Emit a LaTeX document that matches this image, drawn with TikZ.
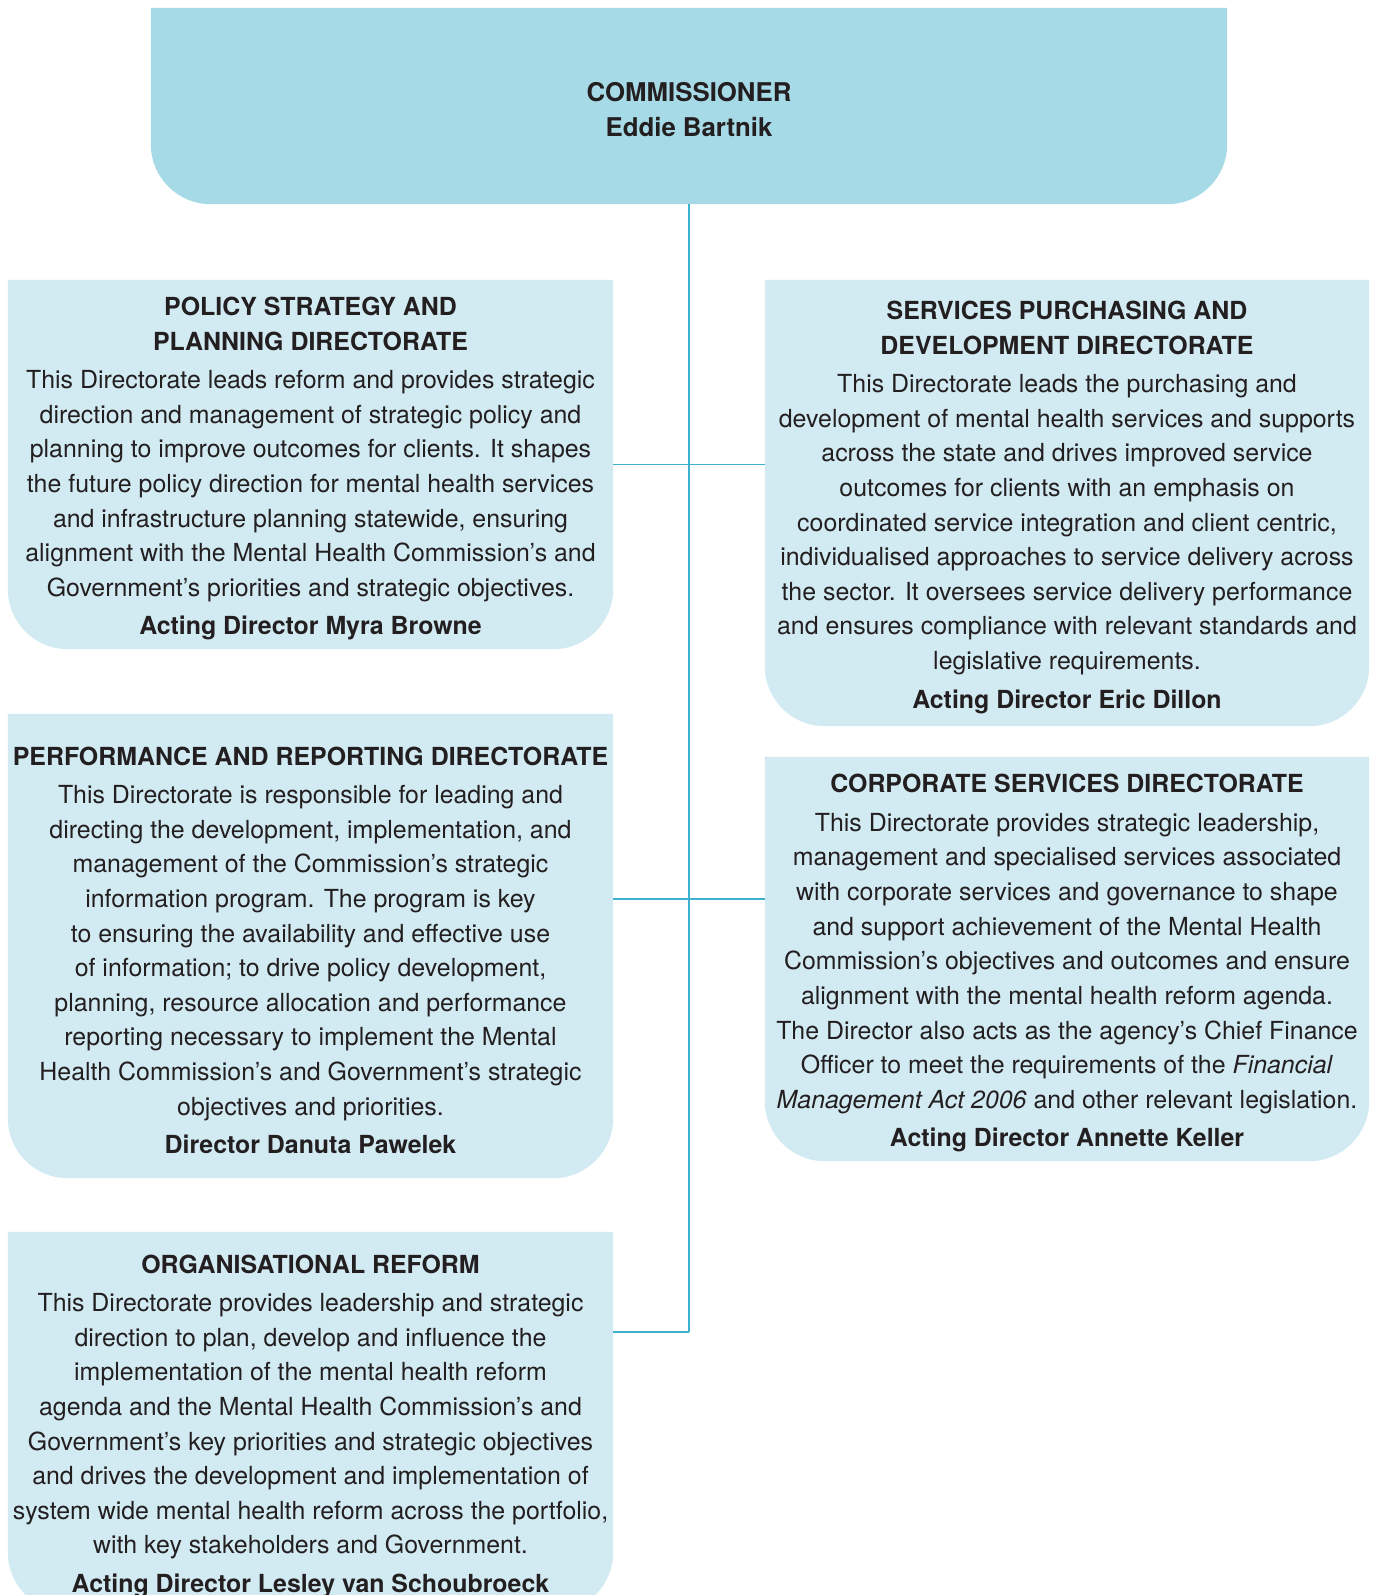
\documentclass[tikz,border=0pt]{standalone}
\usepackage{fontspec}
\setmainfont{TeX Gyre Heros}
\usetikzlibrary{backgrounds}
\definecolor{commblue}{HTML}{A7DAE7}
\definecolor{dirblue}{HTML}{D2EAF2}
\definecolor{linkblue}{HTML}{3DB1CE}
\definecolor{inkgrey}{HTML}{231F20}
\newcommand{\boxhead}[1]{\rule{0pt}{27pt}\textbf{#1}}
\begin{document}
\begin{tikzpicture}[x=1pt,y=-1pt]
    \tikzstyle{dirbox}=[rectangle, inner sep=0pt, align=center, text=inkgrey, font=\fontsize{24.9}{34.6}\selectfont]
    \tikzstyle{link}=[draw=linkblue, line width=1.6pt]
    \useasboundingbox (0,0) rectangle (1375,1595);
    \clip (0,0) rectangle (1375,1595);
    \node[dirbox, font=\fontsize{25.8}{35}\selectfont, minimum width=1076pt, minimum height=196pt] (comm) at (689,106) {\boxhead{COMMISSIONER}\\ \textbf{Eddie Bartnik}};
    \node[dirbox, minimum width=605pt, minimum height=369pt] (psp) at (310.5,464.5) {\boxhead{POLICY STRATEGY AND}\\ \textbf{PLANNING DIRECTORATE}\\[4pt]
      This Directorate leads reform and provides strategic\\
      direction and management of strategic policy and\\
      planning to improve outcomes for clients.  It shapes\\
      the future policy direction for mental health services\\
      and infrastructure planning statewide, ensuring\\
      alignment with the Mental Health Commission’s and\\
      Government’s priorities and strategic objectives.\\[4pt]
      \textbf{Acting Director Myra Browne}};
    \node[dirbox, minimum width=604pt, minimum height=446pt] (spd) at (1067,503) {\boxhead{SERVICES PURCHASING AND}\\ \textbf{DEVELOPMENT DIRECTORATE}\\[4pt]
      This Directorate leads the purchasing and\\
      development of mental health services and supports\\
      across the state and drives improved service\\
      outcomes for clients with an emphasis on\\
      coordinated service integration and client centric,\\
      individualised approaches to service delivery across\\
      the sector. It oversees service delivery performance\\
      and ensures compliance with relevant standards and\\
      legislative requirements.\\[4pt]
      \textbf{Acting Director Eric Dillon}};
    \node[dirbox, minimum width=605pt, minimum height=464pt] (prd) at (310.5,946) {\boxhead{PERFORMANCE AND REPORTING DIRECTORATE}\\[4pt]
      This Directorate is responsible for leading and\\
      directing the development, implementation, and\\
      management of the Commission’s strategic\\
      information program. The program is key\\
      to ensuring the availability and effective use\\
      of information; to drive policy development,\\
      planning, resource allocation and performance\\
      reporting necessary to implement the Mental\\
      Health Commission’s and Government’s strategic\\
      objectives and priorities.\\[4pt]
      \textbf{Director Danuta Pawelek}};
    \node[dirbox, minimum width=604pt, minimum height=404pt] (csd) at (1067,959) {\boxhead{CORPORATE SERVICES DIRECTORATE}\\[4pt]
      This Directorate provides strategic leadership,\\
      management and specialised services associated\\
      with corporate services and governance to shape\\
      and support achievement of the Mental Health\\
      Commission’s objectives and outcomes and ensure\\
      alignment with the mental health reform agenda.\\
      The Director also acts as the agency’s Chief Finance\\
      Officer to meet the requirements of the \textit{Financial}\\
      \textit{Management Act 2006} and other relevant legislation.\\[4pt]
      \textbf{Acting Director Annette Keller}};
    \node[dirbox, minimum width=605pt, minimum height=380pt] (orf) at (310.5,1422) {\boxhead{ORGANISATIONAL REFORM}\\[4pt]
      This Directorate provides leadership and strategic\\
      direction to plan, develop and influence the\\
      implementation of the mental health reform\\
      agenda and the Mental Health Commission’s and\\
      Government’s key priorities and strategic objectives\\
      and drives the development and implementation of\\
      system wide mental health reform across the portfolio,\\
      with key stakeholders and Government.\\[4pt]
      \textbf{Acting Director Lesley van Schoubroeck}};
    \begin{scope}[on background layer]
      \fill[commblue] (comm.north west) -- (comm.north east) -- ([yshift=60pt]comm.south east) arc[start angle=0, end angle=-90, radius=60pt] -- ([xshift=60pt]comm.south west) arc[start angle=270, end angle=180, radius=60pt] -- cycle;
      \foreach \b in {psp,spd,prd,csd,orf}
        \fill[dirblue] (\b.north west) -- (\b.north east) -- ([yshift=60pt]\b.south east) arc[start angle=0, end angle=-90, radius=60pt] -- ([xshift=60pt]\b.south west) arc[start angle=270, end angle=180, radius=60pt] -- cycle;
    \end{scope}
    \coordinate (trunk) at (689,1332);
    \coordinate (mid) at (689,899);
    \draw[link] (comm.south) -- (trunk);
    \draw[link] (psp.east) -- (psp.east -| spd.west);
    \draw[link] (mid -| prd.east) -- (mid -| csd.west);
    \draw[link] (trunk -| orf.east) -- (trunk);
\end{tikzpicture}
\end{document}
